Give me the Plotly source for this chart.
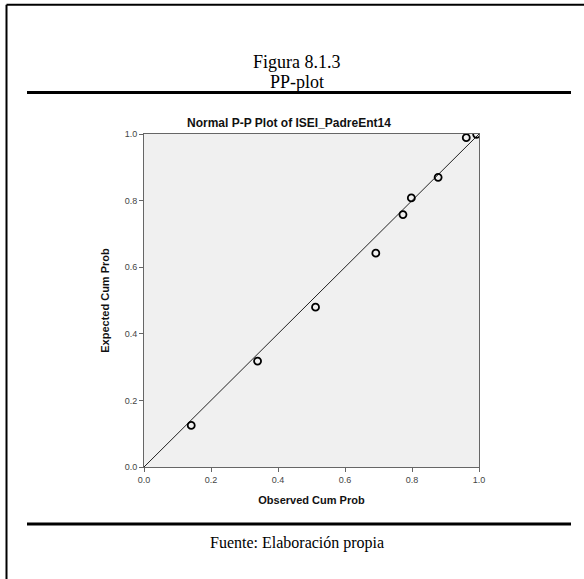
import plotly.graph_objects as go

observed = [0.141, 0.339, 0.512, 0.692, 0.773, 0.798, 0.878, 0.962, 0.993]
expected = [0.125, 0.318, 0.480, 0.642, 0.758, 0.808, 0.870, 0.989, 0.999]
diag = [0.0, 1.0]
ticks = [0.0, 0.2, 0.4, 0.6, 0.8, 1.0]
tick_text = ["0.0", "0.2", "0.4", "0.6", "0.8", "1.0"]

W, H = 584, 579
L, R, T, B = 144, 479, 134, 467
PW, PH = R - L, B - T

def px(x):
    return (x - L) / PW

def py(y):
    return (B - y) / PH

fig = go.Figure()
fig.add_trace(go.Scatter(x=diag, y=diag, mode="lines",
                         line=dict(color="#222222", width=1), hoverinfo="skip"))
fig.add_trace(go.Scatter(x=observed, y=expected, mode="markers",
                         marker=dict(symbol="circle-open", size=7, color="black",
                                     line=dict(width=1.8, color="black"))))

axis_common = dict(range=[0, 1], tickvals=ticks, ticktext=tick_text,
                   showgrid=False, zeroline=False, showline=True, mirror=True,
                   linecolor="#666666", linewidth=1, ticks="outside", ticklen=4,
                   tickcolor="#666666", tickfont=dict(family="Arial, Liberation Sans", size=9, color="#444444"))

fig.update_xaxes(**axis_common, title=dict(text="<b>Observed Cum Prob</b>",
                 font=dict(family="Arial, Liberation Sans", size=11, color="#111111"), standoff=12))
fig.update_yaxes(**axis_common, title=dict(text="<b>Expected Cum Prob</b>",
                 font=dict(family="Arial, Liberation Sans", size=11, color="#111111"), standoff=12))

shapes = [
    dict(type="line", xref="paper", yref="paper", x0=px(6.5), x1=px(590), y0=py(4.8), y1=py(4.8),
         line=dict(color="black", width=2)),
    dict(type="line", xref="paper", yref="paper", x0=px(6.5), x1=px(6.5), y0=py(4.8), y1=py(590),
         line=dict(color="black", width=2)),
    dict(type="line", xref="paper", yref="paper", x0=px(27), x1=px(571), y0=py(92.5), y1=py(92.5),
         line=dict(color="black", width=3)),
    dict(type="line", xref="paper", yref="paper", x0=px(27), x1=px(571), y0=py(524), y1=py(524),
         line=dict(color="black", width=3)),
]

annotations = [
    dict(text="Figura 8.1.3", xref="paper", yref="paper", x=px(297), y=py(62), showarrow=False,
         xanchor="center", yanchor="middle",
         font=dict(family="Liberation Serif, Times New Roman", size=18, color="black")),
    dict(text="PP-plot", xref="paper", yref="paper", x=px(297), y=py(82), showarrow=False,
         xanchor="center", yanchor="middle",
         font=dict(family="Liberation Serif, Times New Roman", size=18, color="black")),
    dict(text="<b>Normal P-P Plot of ISEI_PadreEnt14</b>", xref="paper", yref="paper", x=px(289), y=py(123),
         showarrow=False, xanchor="center", yanchor="middle",
         font=dict(family="Arial, Liberation Sans", size=12, color="#111111")),
    dict(text="Fuente: Elaboración propia", xref="paper", yref="paper", x=px(297), y=py(543),
         showarrow=False, xanchor="center", yanchor="middle",
         font=dict(family="Liberation Serif, Times New Roman", size=16, color="black")),
]

fig.update_layout(width=W, height=H, margin=dict(l=L, r=W - R, t=T, b=H - B),
                  plot_bgcolor="#f0f0f0", paper_bgcolor="white", showlegend=False,
                  shapes=shapes, annotations=annotations)

fig.write_html("out.html", config={"displayModeBar": False},
               post_script="document.body.style.margin='0px';")
